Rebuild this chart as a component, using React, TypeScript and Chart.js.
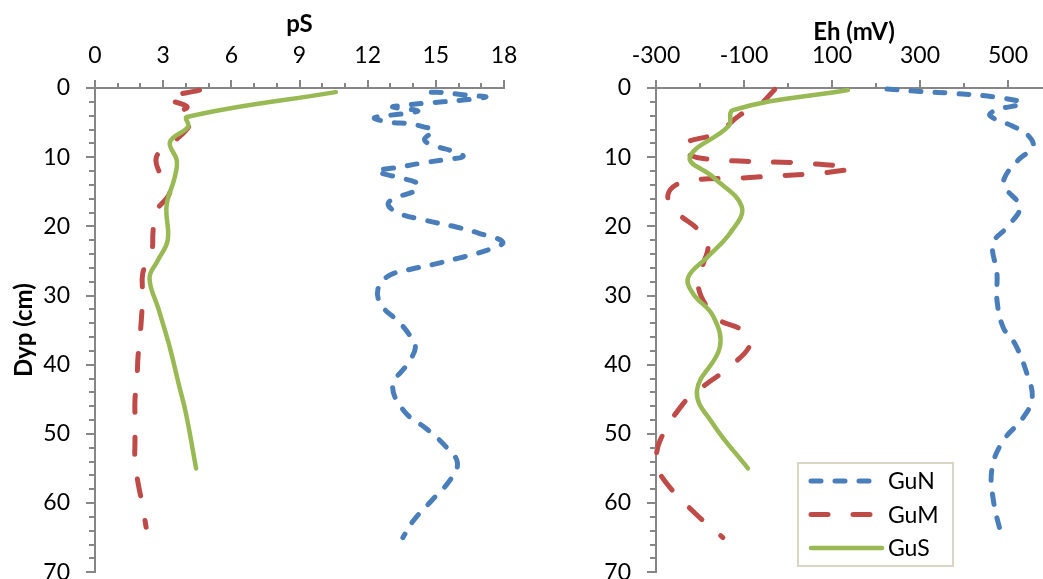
import React, { useEffect, useRef } from 'react';
import { Chart, registerables } from 'chart.js';

Chart.register(...registerables);
Chart.defaults.font.family = 'Lato';

// ---------- Series meta ----------
const SERIES_NAMES = ['GuN', 'GuM', 'GuS'];
const SERIES_COLORS = ['#4A7EBB', '#BE4B48', '#98B954'];

// ---------- Tick labels ----------
const psTickLabels = [0, 3, 6, 9, 12, 15, 18];
const ehTickLabels = [-300, -100, 100, 300, 500];
const depthTickLabels = [0, 10, 20, 30, 40, 50, 60, 70];

// ---------- pS panel (x = pS, y = depth cm) ----------
const gunPsDepth = [0.6, 0.7, 0.9, 1.1, 1.3, 1.75, 2.0, 2.2, 2.5, 2.75, 3.3, 3.7, 4.3, 4.9, 5.2, 5.65, 6.1, 7.5, 8.5, 9.1, 9.9, 10.4, 10.9, 11.5, 12.0, 12.9, 13.8, 14.8, 15.7, 16.7, 18.0, 19.1, 20.1, 21.0, 22.3, 23.5, 24.6, 25.5, 26.2, 27.2, 29.1, 31.4, 33.6, 35.5, 37.5, 40.1, 43.0, 46.7, 49.3, 51.7, 54.2, 56.8, 59.7, 62.6, 65.0];
const gunPs = [14.8, 15.5, 16.0, 16.6, 17.2, 16.2, 15.3, 14.5, 13.6, 13.1, 14.2, 13.6, 12.3, 12.9, 13.9, 14.5, 14.9, 14.5, 15.1, 15.7, 16.2, 15.3, 14.3, 13.3, 12.4, 13.3, 14.2, 14.1, 13.4, 12.9, 13.3, 14.5, 15.9, 16.9, 17.95, 17.2, 16.0, 14.9, 13.9, 12.9, 12.45, 12.6, 13.3, 13.8, 14.1, 13.7, 13.1, 13.6, 14.6, 15.4, 15.95, 15.6, 14.8, 14.0, 13.55];

const gumPsDepth = [0.3, 1.5, 2.7, 3.6, 5.0, 8.0, 10.0, 13.0, 15.0, 18.0, 21.0, 23.5, 26.8, 30.0, 33.0, 36.0, 39.0, 42.0, 45.0, 48.0, 51.0, 54.0, 57.0, 60.0, 63.5];
const gumPs = [4.6, 3.2, 4.05, 3.75, 4.2, 3.4, 2.7, 2.95, 3.3, 2.65, 2.55, 2.5, 2.1, 2.1, 2.05, 1.98, 1.89, 1.85, 1.76, 1.76, 1.76, 1.76, 1.89, 2.07, 2.25];

const gusPsDepth = [0.6, 4.2, 5.6, 7.8, 10.5, 13.0, 17.0, 22.0, 25.0, 27.5, 32.0, 37.0, 43.0, 47.0, 55.0];
const gusPs = [10.6, 4.05, 4.1, 3.3, 3.6, 3.5, 3.15, 3.2, 2.75, 2.4, 2.8, 3.25, 3.7, 4.0, 4.45];

// ---------- Eh panel (x = Eh mV, y = depth cm) ----------
const gunEhDepth = [0.15, 0.5, 0.8, 1.3, 2.2, 3.2, 4.0, 5.5, 6.8, 8.5, 10.3, 13.0, 14.5, 17.2, 20.1, 22.5, 26.8, 30.7, 34.6, 37.0, 41.3, 44.8, 47.7, 51.0, 54.9, 59.3, 65.0];
const gunEh = [225, 300, 380, 470, 532, 472, 459, 510, 545, 557, 525, 492, 495, 527, 498, 466, 475, 475, 489, 516, 543, 555, 534, 489, 464, 466, 486];

const gumEhDepth = [0.2, 2.4, 3.9, 6.5, 8.0, 9.0, 10.2, 10.9, 11.6, 12.2, 13.0, 13.6, 15.5, 18.1, 20.3, 22.5, 25.9, 28.3, 31.7, 33.6, 35.0, 37.0, 40.0, 43.5, 45.7, 51.0, 54.3, 56.8, 61.2, 65.0];
const gumEh = [-30, -64, -109, -161, -238, -241, -193, 43, 141, 89, -102, -239, -273, -250, -207, -182, -195, -205, -184, -155, -105, -86, -127, -200, -239, -291, -298, -280, -216, -148];

const gusEhDepth = [0.3, 3.2, 5.5, 10.0, 12.9, 17.2, 21.0, 24.5, 27.4, 29.7, 33.0, 37.5, 43.8, 48.6, 55.0];
const gusEh = [136, -125, -135, -223, -170, -105, -132, -184, -227, -216, -170, -155, -207, -170, -91];

const AXIS_COLOR = '#868686';

function makeDatasets(series: { depth: number[]; vals: number[] }[]) {
  const dashes = [[10, 14], [17, 25], []];
  const widths = [5, 5, 4.5];
  return series.map((s, i) => ({
    label: SERIES_NAMES[i],
    data: s.vals.map((v, j) => ({ x: v, y: s.depth[j] })),
    borderColor: SERIES_COLORS[i],
    backgroundColor: SERIES_COLORS[i],
    borderWidth: widths[i],
    borderDash: dashes[i],
    borderCapStyle: 'round',
    borderJoinStyle: 'round',
    showLine: true,
    pointRadius: 0,
    pointHoverRadius: 0,
    tension: 0.4,
    fill: false,
    clip: false,
    order: 2 - i,
  }));
}

const tickMarks = {
  id: 'tickMarks',
  afterDraw(chart: any) {
    const ctx = chart.ctx;
    const xs = chart.scales.x;
    const ys = chart.scales.y;
    const area = chart.chartArea;
    ctx.save();
    ctx.strokeStyle = AXIS_COLOR;
    ctx.lineWidth = 2;
    ctx.beginPath();
    xs.ticks.forEach((t: any) => {
      const px = Math.round(xs.getPixelForValue(t.value));
      const len = t.label !== '' ? 8 : 5;
      ctx.moveTo(px, area.top);
      ctx.lineTo(px, area.top - len);
    });
    ys.ticks.forEach((t: any) => {
      const py = Math.round(ys.getPixelForValue(t.value));
      const len = t.label !== '' ? 9 : 6;
      ctx.moveTo(area.left, py);
      ctx.lineTo(area.left - len, py);
    });
    ctx.stroke();
    ctx.restore();
  },
};

const legendBox = {
  id: 'legendBox',
  afterDraw(chart: any) {
    const ctx = chart.ctx;
    const left = 258;
    const top = 463;
    const w = 155;
    const h = 103;
    ctx.save();
    ctx.fillStyle = '#ffffff';
    ctx.fillRect(left, top, w, h);
    ctx.strokeStyle = '#D9D7C3';
    ctx.lineWidth = 2;
    ctx.strokeRect(left, top, w, h);
    chart.data.datasets.forEach((ds: any, i: number) => {
      const yy = top + 18 + i * 33.5;
      ctx.beginPath();
      ctx.setLineDash(ds.borderDash);
      ctx.lineCap = 'round';
      ctx.lineWidth = ds.borderWidth;
      ctx.strokeStyle = ds.borderColor;
      ctx.moveTo(left + 13, yy);
      ctx.lineTo(left + 84, yy);
      ctx.stroke();
      ctx.setLineDash([]);
      ctx.fillStyle = '#000';
      ctx.font = '23px Lato';
      ctx.textBaseline = 'middle';
      ctx.textAlign = 'left';
      ctx.fillText(ds.label, left + 90, yy + 1);
    });
    ctx.restore();
  },
};

function makeConfig(opts: {
  datasets: any[];
  xMin: number;
  xMax: number;
  xStep: number;
  xLabels: number[];
  xTitle: string;
  xTitlePad: number;
  yTitle: string | null;
  yWidth: number;
  padRight: number;
  plugins: any[];
}) {
  return {
    type: 'scatter',
    data: { datasets: opts.datasets },
    options: {
      responsive: false,
      maintainAspectRatio: false,
      animation: false,
      events: [],
      layout: { padding: { top: 0, left: 0, right: opts.padRight, bottom: 20 } },
      plugins: { legend: { display: false }, tooltip: { enabled: false } },
      scales: {
        x: {
          type: 'linear',
          position: 'top',
          min: opts.xMin,
          max: opts.xMax,
          ticks: {
            stepSize: opts.xStep,
            autoSkip: false,
            maxRotation: 0,
            minRotation: 0,
            padding: 19,
            color: '#000',
            font: { size: 23 },
            callback: (v: number) => (opts.xLabels.includes(v) ? String(v) : ''),
          },
          grid: { display: false, drawTicks: false },
          border: { display: true, color: AXIS_COLOR, width: 2 },
          title: {
            display: true,
            text: opts.xTitle,
            color: '#000',
            font: { size: 24, weight: 'bold' },
            padding: { top: opts.xTitlePad, bottom: 0 },
          },
          afterFit: (s: any) => {
            s.height = 88;
          },
        },
        y: {
          type: 'linear',
          position: 'left',
          reverse: true,
          min: 0,
          max: 70,
          ticks: {
            stepSize: 2,
            autoSkip: false,
            padding: 25,
            color: '#000',
            font: { size: 23 },
            callback: (v: number) => (depthTickLabels.includes(v) ? String(v) : ''),
          },
          grid: { display: false, drawTicks: false },
          border: { display: true, color: AXIS_COLOR, width: 2 },
          title: {
            display: !!opts.yTitle,
            text: opts.yTitle || '',
            color: '#000',
            font: { size: 24, weight: 'bold' },
            padding: { top: 10, bottom: 0 },
          },
          afterFit: (s: any) => {
            s.width = opts.yWidth;
          },
        },
      },
    },
    plugins: opts.plugins,
  };
}

export default function App() {
  const leftRef = useRef<HTMLCanvasElement>(null);
  const rightRef = useRef<HTMLCanvasElement>(null);

  useEffect(() => {
    const psSets = makeDatasets([
      { depth: gunPsDepth, vals: gunPs },
      { depth: gumPsDepth, vals: gumPs },
      { depth: gusPsDepth, vals: gusPs },
    ]);
    const ehSets = makeDatasets([
      { depth: gunEhDepth, vals: gunEh },
      { depth: gumEhDepth, vals: gumEh },
      { depth: gusEhDepth, vals: gusEh },
    ]);
    const c1 = new Chart(
      leftRef.current as HTMLCanvasElement,
      makeConfig({
        datasets: psSets,
        xMin: 0,
        xMax: 18,
        xStep: 1,
        xLabels: psTickLabels,
        xTitle: 'pS',
        xTitlePad: 10,
        yTitle: 'Dyp (cm)',
        yWidth: 95,
        padRight: 36,
        plugins: [tickMarks],
      }) as any
    );
    const c2 = new Chart(
      rightRef.current as HTMLCanvasElement,
      makeConfig({
        datasets: ehSets,
        xMin: -300,
        xMax: 600,
        xStep: 100,
        xLabels: ehTickLabels,
        xTitle: 'Eh (mV)',
        xTitlePad: 18,
        yTitle: null,
        yWidth: 116,
        padRight: 28,
        plugins: [tickMarks, legendBox],
      }) as any
    );
    return () => {
      c1.destroy();
      c2.destroy();
    };
  }, []);

  return (
    <div
      style={{
        position: 'fixed',
        left: 0,
        top: 0,
        width: 1043,
        height: 579,
        overflow: 'hidden',
        background: '#fff',
      }}
    >
      <canvas
        ref={leftRef}
        width={540}
        height={611}
        style={{ position: 'absolute', left: 0, top: 0, width: 540, height: 611 }}
      />
      <canvas
        ref={rightRef}
        width={540}
        height={611}
        style={{ position: 'absolute', left: 540, top: 0, width: 540, height: 611 }}
      />
    </div>
  );
}
